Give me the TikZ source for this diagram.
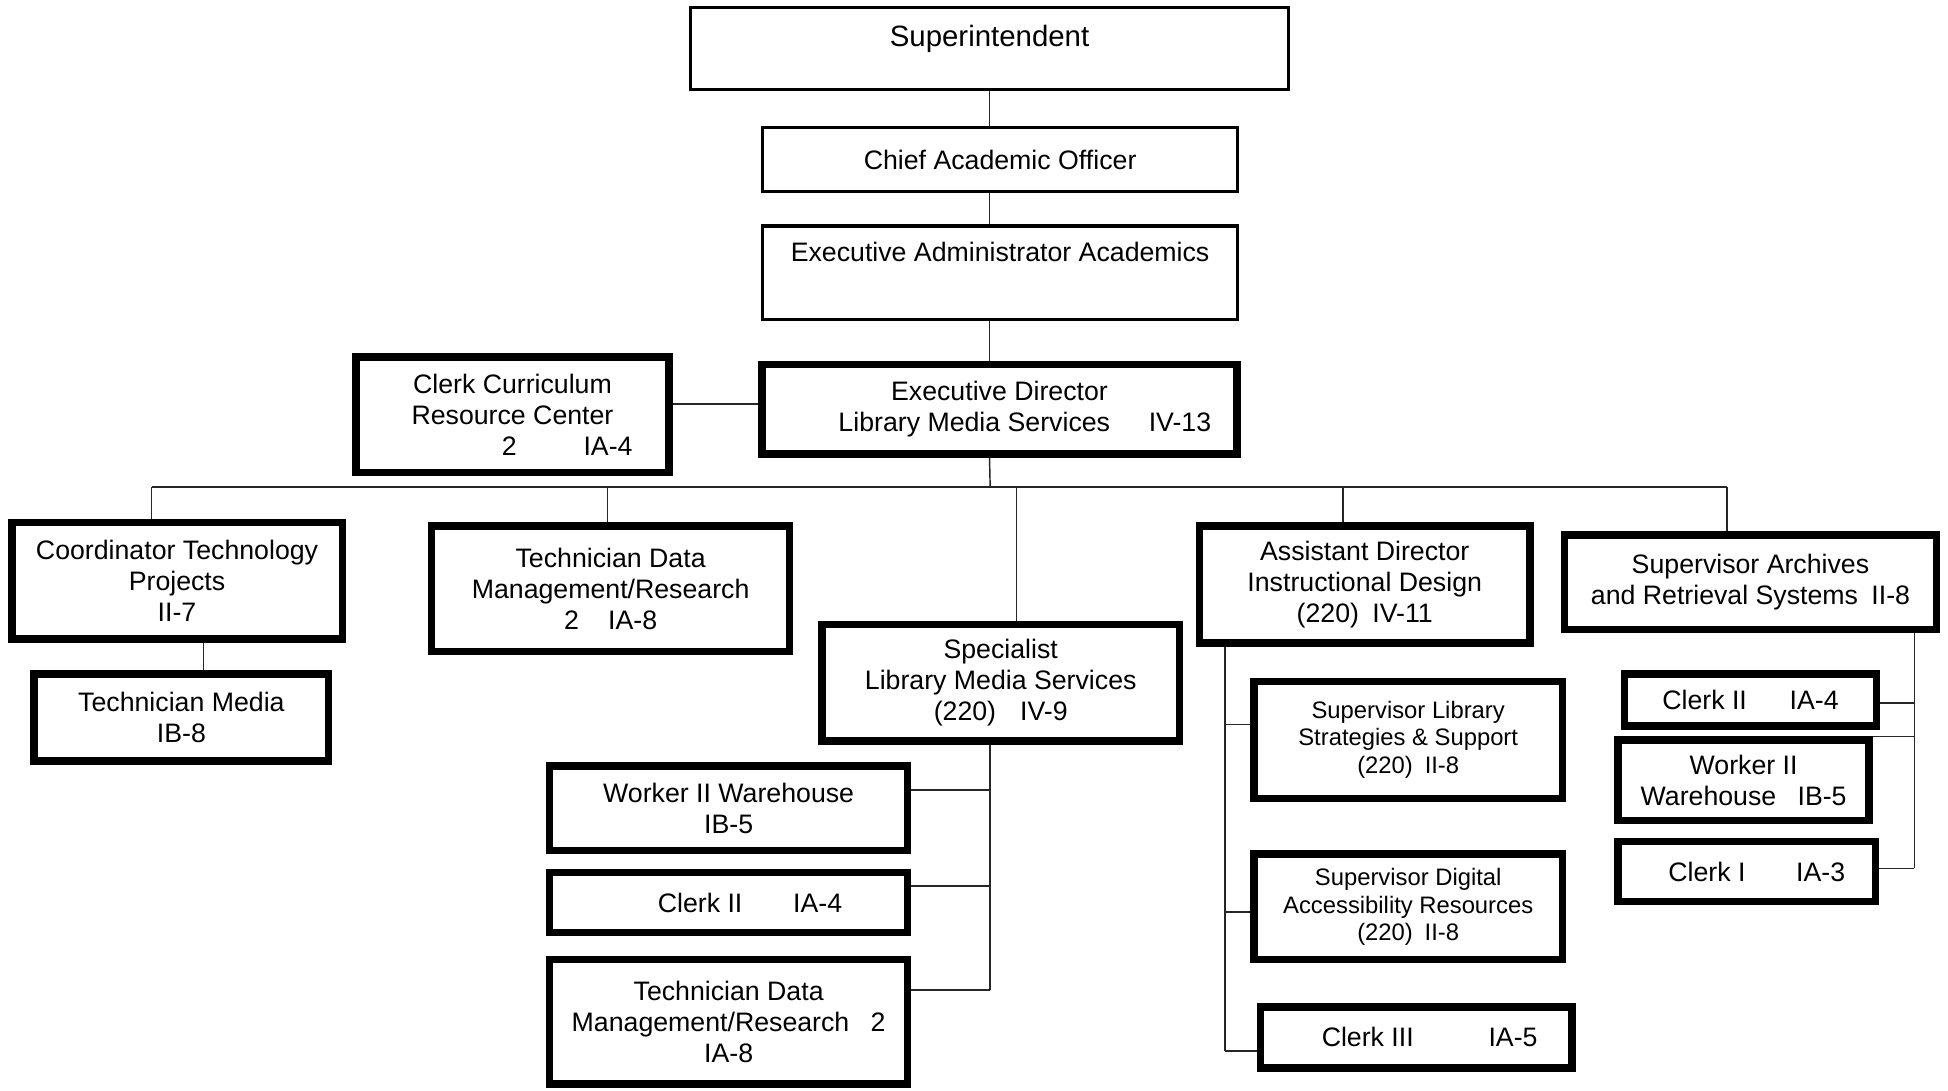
\documentclass[tikz,border=0pt]{standalone}
\usepackage{fontspec}
\setmainfont{Liberation Sans}
\usetikzlibrary{positioning}
\tikzset{orgchart/.style={x=0.6pt, y=-0.6pt, font=\fontsize{12.9}{15}\selectfont}}
\tikzset{wh/.style 2 args={minimum width={#1*0.6pt-3pt}, minimum height={#2*0.6pt-3pt}}}
\tikzset{wht/.style 2 args={minimum width={#1*0.6pt-1pt}, minimum height={#2*0.6pt-1pt}}}
\tikzset{thinbox/.style={draw, line width=1.6pt, inner sep=0pt, align=center}}
\tikzset{thickbox/.style={draw, line width=3.6pt, inner sep=0pt, align=center}}
\tikzset{smalltext/.style={font=\fontsize{11.5}{13.2}\selectfont}}
\tikzset{link/.style={draw=black!85, line width=0.7pt}}

\begin{document}
\begin{tikzpicture}[orgchart]
	\useasboundingbox (0,0) rectangle (1568,878);
	%
	\node[thinbox, wht={483}{68}, font=\fontsize{14.2}{16}\selectfont] (sup) at (796.5,39) {Superintendent\\[-4pt]\mbox{}};
	\node[thinbox, wht={384}{53}] (cao) at (805,128.5) {Chief Academic Officer};
	\node[thinbox, wht={384}{77}] (eaa) at (805,219.5) {Executive Administrator Academics\\[4.8pt]\mbox{}};
	\node[thickbox, wh={387}{77}] (eds) at (804.5,329.5) {Executive Director\\\hspace*{1.9em}Library Media Services\hspace{1.45em}IV-13};
	\node[thickbox, wh={257}{98}] (crc) at (412.5,334) {Clerk Curriculum\\Resource Center\\\hspace*{4.1em}2\hspace{2.5em}IA-4};
	%
	\node[thickbox, wh={271}{99}] (ctp) at (142.5,467.5) {Coordinator Technology\\Projects\\II-7};
	\node[thickbox, wh={242}{75}] (tmed) at (146,577.5) {Technician Media\\IB-8};
	\node[thickbox, wh={293}{106}] (tdm) at (491.5,474) {Technician Data\\Management/Research\\2\hspace{1.1em}IA-8};
	%
	\node[thickbox, wh={293}{99}] (spec) at (805.5,549.5) {Specialist\\Library Media Services\\(220)\hspace{0.9em}IV-9};
	\node[thickbox, wh={293}{73}] (wwh) at (586.5,650.5) {Worker II Warehouse\\IB-5};
	\node[thickbox, wh={293}{53}] (clka) at (586.5,726.5) {\hspace*{1.6em}Clerk II\hspace{1.9em}IA-4};
	\node[thickbox, wh={293}{105}] (tdmb) at (586.5,822.5) {Technician Data\\Management/Research\hspace{0.8em}2\\IA-8};
	%
	\node[thickbox, wh={271}{99}] (asst) at (1098.5,470.5) {Assistant Director\\Instructional Design\\(220)\hspace{0.5em}IV-11};
	\node[thickbox, smalltext, wh={253}{99}] (slib) at (1133.5,595.5) {Supervisor Library\\Strategies \& Support\\(220)\hspace{0.5em}II-8};
	\node[thickbox, smalltext, wh={253}{90}] (sdig) at (1133.5,730) {Supervisor Digital\\Accessibility Resources\\(220)\hspace{0.5em}II-8};
	\node[thickbox, wh={256}{54}] (clkc) at (1140,835) {\hspace*{1em}Clerk III\hspace{2.8em}IA-5};
	%
	\node[thickbox, wh={304}{81}] (sarc) at (1409,468.5) {Supervisor Archives\\and Retrieval Systems\hspace{0.5em}II-8};
	\node[thickbox, wh={208}{47}] (clkb) at (1409,563.5) {Clerk II\hspace{1.6em}IA-4};
	\node[thickbox, wh={207}{70}] (wk) at (1403.5,628) {Worker II\\Warehouse\hspace{0.8em}IB-5};
	\node[thickbox, wh={212}{53}] (clki) at (1406,701.5) {\hspace*{0.75em}Clerk I\hspace{1.9em}IA-3};
	%
	\draw[link] (sup.south) -- (sup |- cao.north);
	\draw[link] (sup |- cao.south) -- (sup |- eaa.north);
	\draw[link] (sup |- eaa.south) -- (sup |- eds.north);
	\coordinate (side) at (576,325);
	\draw[link] (side -| crc.east) -- (side -| eds.west);
	%
	\coordinate (bus) at (797,392);
	\draw[link] (sup |- eds.south) -- (bus);
	\foreach \x/\n in {122/ctp, 489/tdm, 818/spec, 1081/asst, 1390/sarc}{
		\coordinate (b\n) at (\x,392);
		\draw[link] (b\n) -- (b\n |- \n.north);
	}
	\draw[link] (bctp) -- (bsarc);
	\draw[link] (ctp.south) ++(21.5,0) coordinate (k) -- (k |- tmed.north);
	%
	\coordinate (sv) at (797,797);
	\draw[link] (sv |- spec.south) -- (sv);
	\foreach \y/\n in {636/wwh, 713/clka, 797/tdmb}{
		\coordinate (c) at (797,\y);
		\draw[link] (c) -- (c -| \n.east);
	}
	\coordinate (av) at (986,846);
	\draw[link] (av |- asst.south) -- (av);
	\foreach \y/\n in {583/slib, 734/sdig, 846/clkc}{
		\coordinate (c) at (986,\y);
		\draw[link] (c) -- (c -| \n.west);
	}
	\coordinate (rv) at (1541,699);
	\draw[link] (rv |- sarc.south) -- (rv);
	\foreach \y/\n in {566/clkb, 593/wk, 699/clki}{
		\coordinate (c) at (1541,\y);
		\draw[link] (c) -- (c -| \n.east);
	}
\end{tikzpicture}
\end{document}
